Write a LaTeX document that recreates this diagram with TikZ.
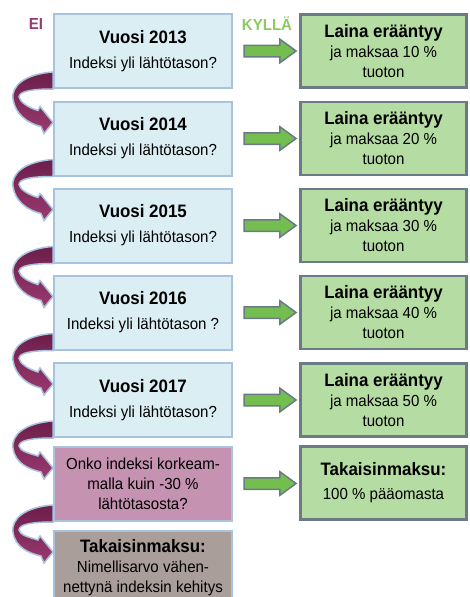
\documentclass[tikz,border=0pt]{standalone}
\usepackage{fontspec}
\setmainfont{Liberation Sans}[FakeStretch=0.94]
\usepackage{tikz}
\usetikzlibrary{shapes.arrows,calc}
\definecolor{vaalsin}{HTML}{DBEEF4}
\definecolor{reunasin}{HTML}{A7C3DE}
\definecolor{vihrlaat}{HTML}{B5DCA2}
\definecolor{harmaa}{HTML}{6A7A86}
\definecolor{nuolivihr}{HTML}{74BE4F}
\definecolor{viini}{HTML}{9A3A70}
\definecolor{viinitumma}{HTML}{6C1E49}
\definecolor{roosa}{HTML}{C692B2}
\definecolor{ruskea}{HTML}{A99E99}
\definecolor{kylla}{HTML}{8DC862}
\newcommand{\otsikko}[1]{{\bfseries\fontsize{18}{20}\selectfont #1}}
% kaareva nuoli laatikosta seuraavaan
\newcommand{\kaari}[2]{%
  \coordinate (ka) at (#1.south west);
  \coordinate (kb) at ($(#2.north west)+(0,22)$);
  \filldraw[kaarinuoli]
    ($(ka)+(0,-17)$) .. controls ($(ka)+(-28,-15)$) and ($(ka)+(-42,-3)$) .. ($(ka)+(-40,10)$)
    .. controls ($(ka)+(-38,25)$) and ($(kb)+(-25,1)$) .. ($(kb)+(-12,4)$)
    -- ($(kb)+(-9,11)$) -- (kb) -- ($(kb)+(-13,-16)$) -- ($(kb)+(-15,-12)$)
    .. controls ($(kb)+(-25,-15)$) and ($(ka)+(-33,13)$) .. ($(ka)+(-34,8)$)
    .. controls ($(ka)+(-34,2)$) and ($(ka)+(-20,0)$) .. (ka) -- cycle;
}
\tikzset{%
    kysymys/.style={draw=reunasin, line width=2pt, fill=vaalsin,
        minimum width=178pt, minimum height=74pt, inner sep=2pt,
        align=center, font=\fontsize{16}{20}\selectfont},
    tulos/.style={draw=harmaa, line width=2.5pt, fill=vihrlaat,
        minimum width=166pt, minimum height=73pt, inner sep=2pt,
        align=center, font=\fontsize{16}{20}\selectfont},
    vnuoli/.style={single arrow, draw=harmaa, line width=1.5pt, fill=nuolivihr,
        minimum height=52pt, inner xsep=0pt, inner ysep=5pt,
        single arrow head extend=6pt, single arrow head indent=0pt,
        single arrow tip angle=72},
    kaarinuoli/.style={draw=reunasin, line width=1.5pt,
        top color=viinitumma, bottom color=viini}
}
\begin{document}
\begin{tikzpicture}[x=1pt,y=-1pt]
    \useasboundingbox (0,0) rectangle (470,597);
    \clip (0,0) rectangle (470,597);
    \node[text=viini, font=\bfseries\fontsize{16}{18}\selectfont] (ei) at (36,24) {EI};
    \node[text=kylla, font=\bfseries\fontsize{16}{18}\selectfont] (kylla) at (267,24) {KYLLÄ};
    % vuodet
    \node[kysymys] (v1) at (143,51) {\otsikko{Vuosi 2013}\\[5pt] Indeksi yli lähtötason?};
    \node[kysymys] (v2) at (143,138.5) {\otsikko{Vuosi 2014}\\[5pt] Indeksi yli lähtötason?};
    \node[kysymys] (v3) at (143,225.5) {\otsikko{Vuosi 2015}\\[5pt] Indeksi yli lähtötason?};
    \node[kysymys] (v4) at (143,312.5) {\otsikko{Vuosi 2016}\\[5pt] Indeksi yli lähtötason ?};
    \node[kysymys] (v5) at (143,400) {\otsikko{Vuosi 2017}\\[5pt] Indeksi yli lähtötason?};
    \node[kysymys, fill=roosa] (ko) at (143,484) {Onko indeksi korkeam-\\malla kuin -30 \%\\lähtötasosta?};
    \node[kysymys, fill=ruskea, anchor=north] (tm) at (143,530)
        {\otsikko{Takaisinmaksu:}\\Nimellisarvo vähen-\\nettynä indeksin kehitys};
    % tulokset
    \node[tulos] (l1) at (383.5,51) {\otsikko{Laina erääntyy}\\ja maksaa 10 \%\\tuoton};
    \node[tulos] (l2) at (383.5,138.5) {\otsikko{Laina erääntyy}\\ja maksaa 20 \%\\tuoton};
    \node[tulos] (l3) at (383.5,225.5) {\otsikko{Laina erääntyy}\\ja maksaa 30 \%\\tuoton};
    \node[tulos] (l4) at (383.5,312.5) {\otsikko{Laina erääntyy}\\ja maksaa 40 \%\\tuoton};
    \node[tulos] (l5) at (383.5,400) {\otsikko{Laina erääntyy}\\ja maksaa 50 \%\\tuoton};
    \node[tulos] (l6) at (383.5,483) {\otsikko{Takaisinmaksu:}\\[4pt]100 \% pääomasta};
    % kyllä-nuolet
    \path (v1.east) -- node[vnuoli]{} (l1.west);
    \path (v2.east) -- node[vnuoli]{} (l2.west);
    \path (v3.east) -- node[vnuoli]{} (l3.west);
    \path (v4.east) -- node[vnuoli]{} (l4.west);
    \path (v5.east) -- node[vnuoli]{} (l5.west);
    \path (ko.east) -- node[vnuoli]{} (l6.west);
    % ei-nuolet
    \kaari{v1}{v2}
    \kaari{v2}{v3}
    \kaari{v3}{v4}
    \kaari{v4}{v5}
    \kaari{v5}{ko}
    \kaari{ko}{tm}
\end{tikzpicture}
\end{document}
